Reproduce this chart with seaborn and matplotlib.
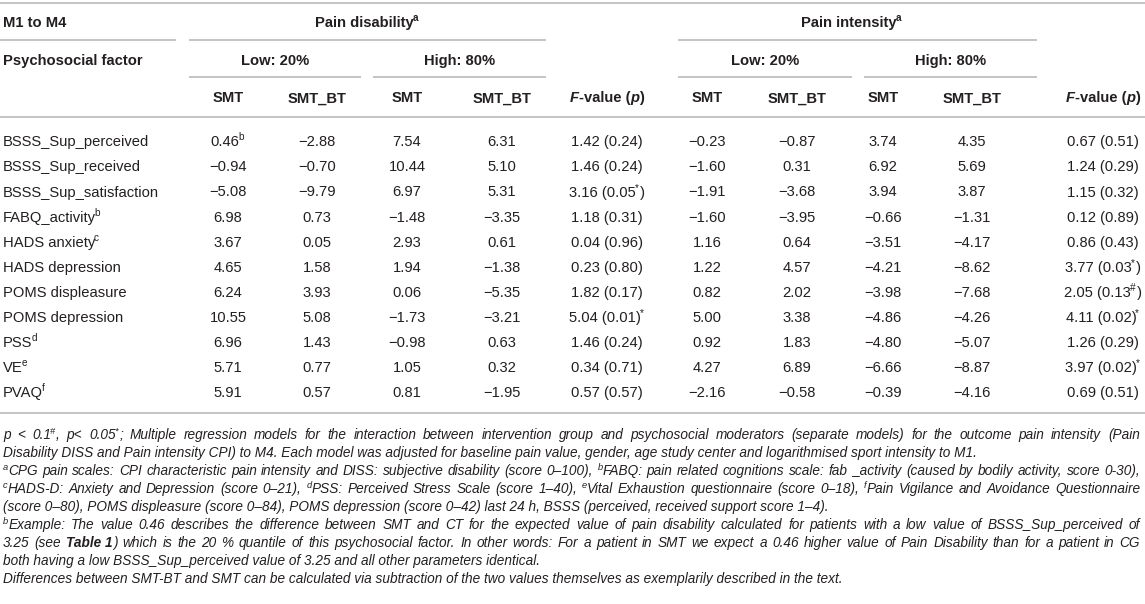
"""
Moderator table: pain disability / pain intensity at M4 by psychosocial factor
Rebuilt as a figure with seaborn + matplotlib text
"""

import re
import matplotlib
matplotlib.use("Agg")
import matplotlib.pyplot as plt
import seaborn as sns
import pandas as pd

# ---- data -------------------------------------------------------------
# markup: ^{x} superscript, **x** bold, ~~x~~ italic
factors = ["BSSS_Sup_perceived", "BSSS_Sup_received", "BSSS_Sup_satisfaction",
           "FABQ_activity", "HADS anxiety", "HADS depression", "POMS displeasure",
           "POMS depression", "PSS", "VE", "PVAQ"]
factor_sup = ["", "", "", "b", "c", "", "", "", "d", "e", "f"]

dis_low_smt = [0.46, -0.94, -5.08, 6.98, 3.67, 4.65, 6.24, 10.55, 6.96, 5.71, 5.91]
dis_low_bt = [-2.88, -0.70, -9.79, 0.73, 0.05, 1.58, 3.93, 5.08, 1.43, 0.77, 0.57]
dis_high_smt = [7.54, 10.44, 6.97, -1.48, 2.93, 1.94, 0.06, -1.73, -0.98, 1.05, 0.81]
dis_high_bt = [6.31, 5.10, 5.31, -3.35, 0.61, -1.38, -5.35, -3.21, 0.63, 0.32, -1.95]
dis_f = [1.42, 1.46, 3.16, 1.18, 0.04, 0.23, 1.82, 5.04, 1.46, 0.34, 0.57]
dis_p = [0.24, 0.24, 0.05, 0.31, 0.96, 0.80, 0.17, 0.01, 0.24, 0.71, 0.57]
dis_sig = ["", "", "in*", "", "", "", "", "out*", "", "", ""]

int_low_smt = [-0.23, -1.60, -1.91, -1.60, 1.16, 1.22, 0.82, 5.00, 0.92, 4.27, -2.16]
int_low_bt = [-0.87, 0.31, -3.68, -3.95, 0.64, 4.57, 2.02, 3.38, 1.83, 6.89, -0.58]
int_high_smt = [3.74, 6.92, 3.94, -0.66, -3.51, -4.21, -3.98, -4.86, -4.80, -6.66, -0.39]
int_high_bt = [4.35, 5.69, 3.87, -1.31, -4.17, -8.62, -7.68, -4.26, -5.07, -8.87, -4.16]
int_f = [0.67, 1.24, 1.15, 0.12, 0.86, 3.77, 2.05, 4.11, 1.26, 3.97, 0.69]
int_p = [0.51, 0.29, 0.32, 0.89, 0.43, 0.03, 0.13, 0.02, 0.29, 0.02, 0.51]
int_sig = ["", "", "", "", "", "in*", "in#", "out*", "", "out*", ""]

sub_headers = ["SMT", "SMT_BT", "SMT", "SMT_BT", "~~F~~-value (~~p~~)",
               "SMT", "SMT_BT", "SMT", "SMT_BT", "~~F~~-value (~~p~~)"]

footnotes = [
    "p < 0.1^{#}, p< 0.05^{*}; Multiple regression models for the interaction between intervention group and psychosocial moderators (separate models) for the outcome pain intensity (Pain",
    "Disability DISS and Pain intensity CPI) to M4. Each model was adjusted for baseline pain value, gender, age study center and logarithmised sport intensity to M1.",
    "^{a}CPG pain scales: CPI characteristic pain intensity and DISS: subjective disability (score 0\u2013100), ^{b}FABQ: pain related cognitions scale: fab _activity (caused by bodily activity, score 0-30),",
    "^{c}HADS-D: Anxiety and Depression (score 0\u201321), ^{d}PSS: Perceived Stress Scale (score 1\u201340), ^{e}Vital Exhaustion questionnaire (score 0\u201318), ^{f}Pain Vigilance and Avoidance Questionnaire",
    "(score 0\u201380), POMS displeasure (score 0\u201384), POMS depression (score 0\u201342) last 24 h, BSSS (perceived, received support score 1\u20134).",
    "^{b}Example: The value 0.46 describes the difference between SMT and CT for the expected value of pain disability calculated for patients with a low value of BSSS_Sup_perceived of",
    "3.25 (see **Table\u00a01**) which is the 20 % quantile of this psychosocial factor. In other words: For a patient in SMT we expect a 0.46 higher value of Pain Disability than for a patient in CG",
    "both having a low BSSS_Sup_perceived value of 3.25 and all other parameters identical.",
    "Differences between SMT-BT and SMT can be calculated via subtraction of the two values themselves as exemplarily described in the text.",
]
justified = [True, False, True, True, False, True, True, False, False]


def num(v):
    return f"{v:.2f}".replace("-", "\u2212")


def fcell(f, p, sig):
    if sig.startswith("in"):
        return f"{num(f)} ({num(p)}^{{{sig[2:]}}})"
    if sig.startswith("out"):
        return f"{num(f)} ({num(p)})^{{{sig[3:]}}}"
    return f"{num(f)} ({num(p)})"


rows = pd.DataFrame({
    "factor": [f + (f"^{{{s}}}" if s else "") for f, s in zip(factors, factor_sup)],
    "d_ls": [num(v) + ("^{b}" if i == 0 else "") for i, v in enumerate(dis_low_smt)],
    "d_lb": [num(v) for v in dis_low_bt],
    "d_hs": [num(v) for v in dis_high_smt],
    "d_hb": [num(v) for v in dis_high_bt],
    "d_f": [fcell(f, p, s) for f, p, s in zip(dis_f, dis_p, dis_sig)],
    "i_ls": [num(v) for v in int_low_smt],
    "i_lb": [num(v) for v in int_low_bt],
    "i_hs": [num(v) for v in int_high_smt],
    "i_hb": [num(v) for v in int_high_bt],
    "i_f": [fcell(f, p, s) for f, p, s in zip(int_f, int_p, int_sig)],
})

# ---- style ------------------------------------------------------------
sns.set_theme(style="white")
plt.rcParams["font.family"] = ["Liberation Sans", "DejaVu Sans"]

TXT = "#231f20"
RULE = "#b4b4b4"
FS = 10.6
FS_NOTE = 9.85

W, H = 1145, 604
fig = plt.figure(figsize=(W / 100, H / 100), dpi=100)
ax = fig.add_axes([0, 0, 1, 1])
ax.set_xlim(0, W)
ax.set_ylim(H, 0)
ax.axis("off")
renderer = fig.canvas.get_renderer()

col_x = [228, 317, 407, 502, 607, 707, 797, 883, 972, 1103]
row_y0, row_dy = 141, 25.1
note_y0, note_dy = 434, 18.0

TOKEN = re.compile(r"(\^\{[^}]*\}|\*\*[^*]+\*\*|~~[^~]+~~)")


def parse(s):
    parts = []
    for tok in TOKEN.split(s):
        if not tok:
            continue
        if tok.startswith("^{"):
            parts.append((tok[2:-1], "sup"))
        elif tok.startswith("**"):
            parts.append((tok[2:-2], "bold"))
        elif tok.startswith("~~"):
            parts.append((tok[2:-2], "ital"))
        else:
            parts.append((tok, ""))
    return parts


def draw_word(y, s, size, bold=False, italic=False):
    """Draw one run of marked-up text at x=0; return its pieces and width."""
    objs, x = [], 0.0
    for txt, kind in parse(s):
        sup = kind == "sup"
        fs = size * 0.68 if sup else size
        dy = -size * 0.55 if sup else 0
        t = ax.text(x, y + size * 0.5 + dy, txt, ha="left", va="baseline", color=TXT,
                    fontsize=fs,
                    fontweight="bold" if (bold or kind == "bold") else "normal",
                    fontstyle="italic" if (italic or kind == "ital") else "normal")
        w = t.get_window_extent(renderer).width
        # pull the superscript a touch towards its base glyph
        objs.append((t, x - 1.2 if (sup and x > 0) else x))
        x += w
    return objs, x


def shift(objs, dx):
    for t, x in objs:
        t.set_x(x + dx)


def put(x, y, s, ha="center", bold=False, size=FS, italic=False):
    objs, w = draw_word(y, s, size, bold, italic)
    shift(objs, x - w / 2 if ha == "center" else x)


def put_justified(y, line, x0=3, x1=1140):
    words = [draw_word(y, w, FS_NOTE, italic=True) for w in line.split(" ")]
    total = sum(w for _, w in words)
    gap = max((x1 - x0 - total) / (len(words) - 1), 1.5)
    x = x0
    for objs, w in words:
        shift(objs, x)
        x += w + gap


def rule(x0, x1, y):
    ax.plot([x0, x1], [y, y], color=RULE, lw=1.1, solid_capstyle="butt")


# rules
rule(0, W, 3)
rule(0, 176, 40)
rule(189, 546, 40)
rule(678, 1037, 40)
rule(189, 361, 77)
rule(373, 546, 77)
rule(678, 852, 77)
rule(864, 1037, 77)
rule(0, W, 117)
rule(0, W, 413)

# headers
put(3, 22, "M1 to M4", ha="left", bold=True)
put(367, 22, "Pain disability^{a}", bold=True)
put(852, 22, "Pain intensity^{a}", bold=True)
put(3, 60, "Psychosocial factor", ha="left", bold=True)
for x0, x1 in [(189, 361), (373, 546), (678, 852), (864, 1037)]:
    put((x0 + x1) / 2, 60, "Low: 20%" if x0 in (189, 678) else "High: 80%", bold=True)
for x, s in zip(col_x, sub_headers):
    put(x, 97, s, bold=True)

# body
cols = list(rows.columns[1:])
for i, r in rows.iterrows():
    y = row_y0 + i * row_dy
    put(3, y, r["factor"], ha="left")
    for x, c in zip(col_x, cols):
        put(x, y, r[c])

# footnotes
for k, (line, just) in enumerate(zip(footnotes, justified)):
    y = note_y0 + k * note_dy
    if just:
        put_justified(y, line)
    else:
        put(3, y, line, ha="left", size=FS_NOTE, italic=True)

fig.savefig("out.png", dpi=100)
